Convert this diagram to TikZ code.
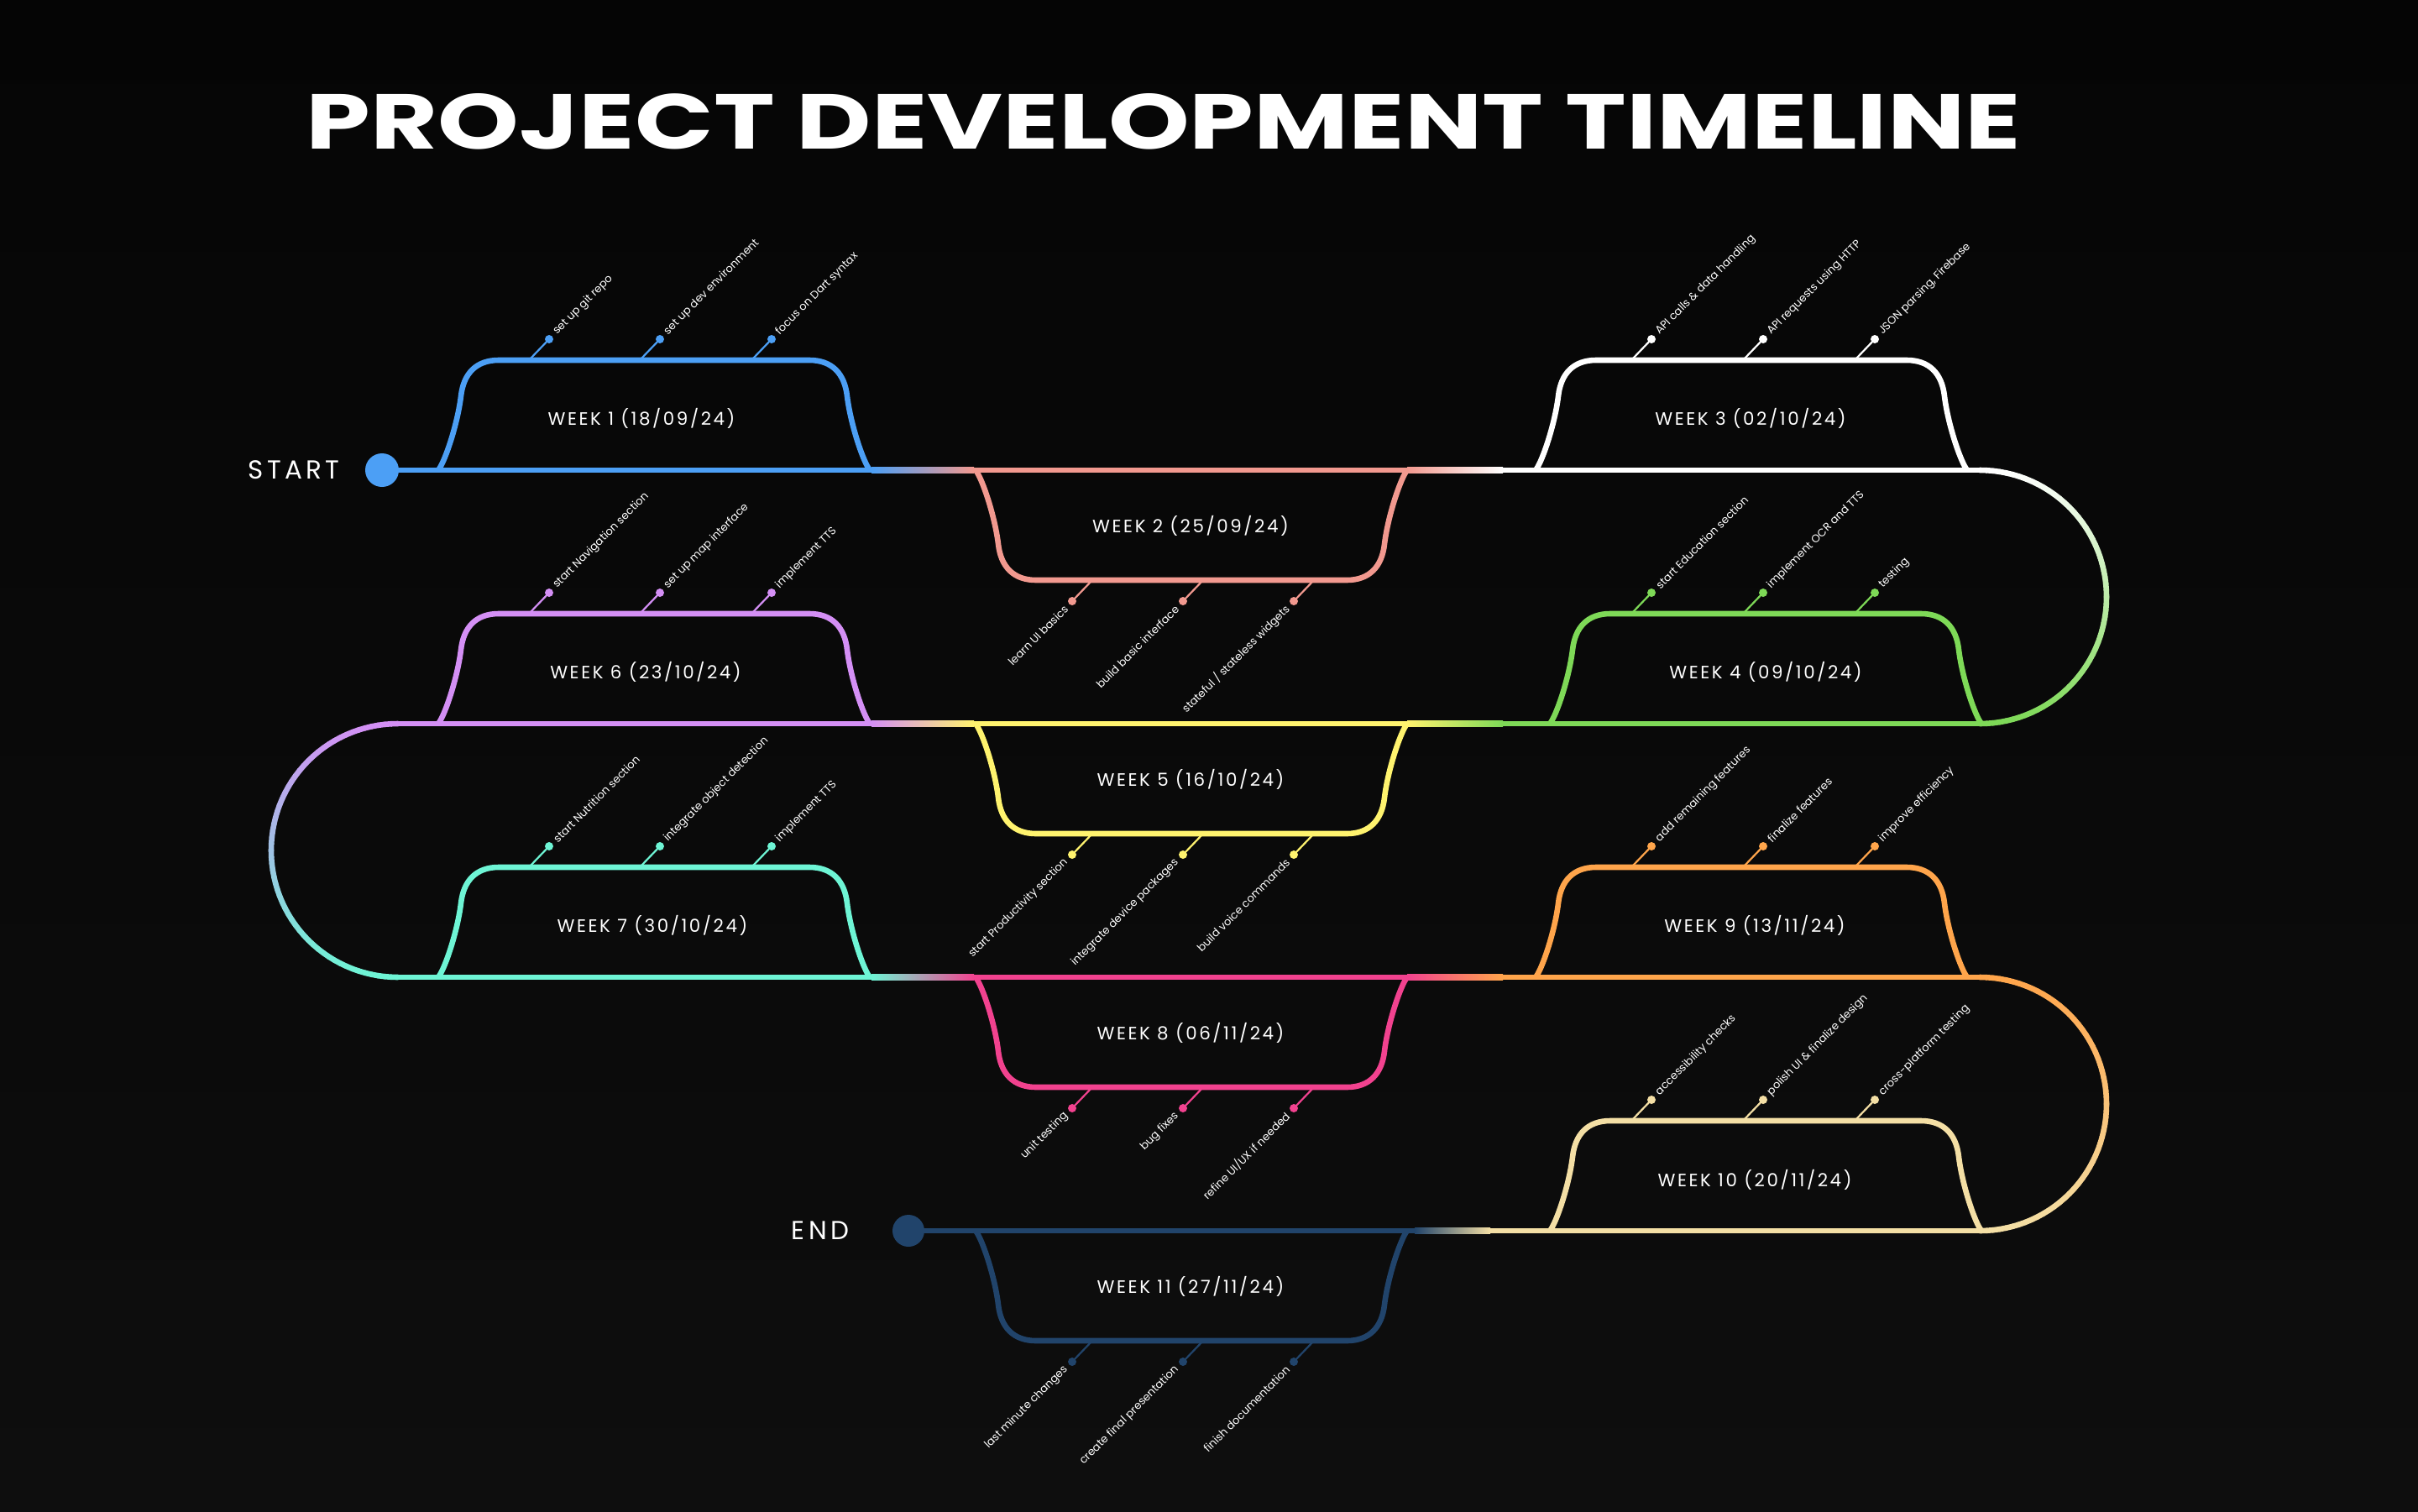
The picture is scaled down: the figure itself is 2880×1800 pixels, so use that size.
\documentclass[tikz,border=0pt]{standalone}
\usepackage{fontspec}
\usepackage{graphicx}
\setmainfont{Poppins}
\newfontfamily\weekfont{Poppins}[LetterSpace=12]
\newfontfamily\sefont{Poppins}[LetterSpace=14]
\newfontfamily\titlefont{Poppins}
\definecolor{bgtop}{HTML}{050505}
\definecolor{bgbot}{HTML}{0E0E0E}
\definecolor{cblue}{HTML}{4C9FF5}
\definecolor{csalmon}{HTML}{F2998F}
\definecolor{cwhite}{HTML}{FFFFFF}
\definecolor{cgreen}{HTML}{7ED957}
\definecolor{cyellow}{HTML}{FFF36E}
\definecolor{cpurple}{HTML}{D48FF5}
\definecolor{cteal}{HTML}{6EF5D5}
\definecolor{cpink}{HTML}{F2428F}
\definecolor{corange}{HTML}{FFA54B}
\definecolor{ccream}{HTML}{F4DFA5}
\definecolor{cnavy}{HTML}{21446B}

% straight segment: x1 x2 y colour
\newcommand\lineseg[4]{\draw[mainline,#4] (#1,#3) -- (#2,#3);}
% gradient segment: x1 x2 y leftcolour rightcolour
\newcommand\gradseg[5]{\shade[left color=#4,right color=#5] (#1,{#3-3.3}) rectangle (#2,{#3+3.3});}
% gradient arc: cx cy startangle step c1 c2
\newcommand\gradarc[6]{%
  \foreach \i in {0,...,59}{%
    \pgfmathsetmacro\aA{#3+(#4)*\i}%
    \pgfmathsetmacro\aB{#3+(#4)*(\i+1)}%
    \pgfmathtruncatemacro\pp{round(50*(1+sin((\aA+\aB)/2)))}%
    \draw[mainline,line cap=round,color=#6!\pp!#5] ({#1+151*cos(\aA)},{#2+151*sin(\aA)}) -- ({#1+151*cos(\aB)},{#2+151*sin(\aB)});
  }}
% bump above the line: left x, base y, colour
\newcommand\topbump[3]{%
  \draw[bumpline,#3] (#1,#2) .. controls ({#1+8},{#2-10}) and ({#1+23},{#2-55}) .. ({#1+27},{#2-88})
   .. controls ({#1+30},{#2-115}) and ({#1+45},{#2-131}) .. ({#1+72},{#2-131})
   -- ({#1+442},{#2-131})
   .. controls ({#1+469},{#2-131}) and ({#1+484},{#2-115}) .. ({#1+487},{#2-88})
   .. controls ({#1+491},{#2-55}) and ({#1+506},{#2-10}) .. ({#1+514},{#2});}
% bump below the line
\newcommand\botbump[3]{%
  \draw[bumpline,#3] (#1,#2) .. controls ({#1+8},{#2+10}) and ({#1+23},{#2+55}) .. ({#1+27},{#2+88})
   .. controls ({#1+30},{#2+115}) and ({#1+45},{#2+131}) .. ({#1+72},{#2+131})
   -- ({#1+442},{#2+131})
   .. controls ({#1+469},{#2+131}) and ({#1+484},{#2+115}) .. ({#1+487},{#2+88})
   .. controls ({#1+491},{#2+55}) and ({#1+506},{#2+10}) .. ({#1+514},{#2});}
% tick up: name x y colour text
\newcommand\uptick[5]{%
  \draw[tickline,#4] (#2,#3) -- ({#2+24},{#3-25});
  \fill[#4] ({#2+24},{#3-25}) circle (5);
  \node[smalllab,anchor=west,rotate=45] (#1) at ({#2+31},{#3-32}) {#5};}
% tick down
\newcommand\downtick[5]{%
  \draw[tickline,#4] (#2,#3) -- ({#2-24},{#3+25});
  \fill[#4] ({#2-24},{#3+25}) circle (5);
  \node[smalllab,anchor=east,rotate=45] (#1) at ({#2-31},{#3+32}) {#5};}

\begin{document}
\begin{tikzpicture}[x=0.5pt,y=-0.5pt,
  mainline/.style={line width=3.3pt},
  bumpline/.style={line width=3.3pt,line join=round},
  tickline/.style={line width=1.1pt},
  smalllab/.style={text=white,inner sep=0pt,font=\fontsize{6.5}{7}\selectfont},
  weeklab/.style={text=white,inner sep=0pt,font=\weekfont\fontsize{10.7}{12}\selectfont},
  selab/.style={text=white,inner sep=0pt,font=\sefont\fontsize{15.5}{18}\selectfont}]
\useasboundingbox (0,0) rectangle (2880,1800);
\shade[top color=bgtop,bottom color=bgbot] (0,0) rectangle (2880,1800);

% title
\node[text=white,inner sep=0pt] (title) at (1386,145)
  {\resizebox{1021pt}{33pt}{\titlefont\bfseries PROJECT DEVELOPMENT TIMELINE}};

% row 1
\lineseg{455}{1038}{560}{cblue}
\gradseg{1038}{1160}{560}{cblue}{csalmon}
\lineseg{1160}{1676}{560}{csalmon}
\gradseg{1676}{1790}{560}{csalmon}{cwhite}
\lineseg{1790}{2358}{560}{cwhite}
\gradarc{2358}{711}{-90}{3}{cwhite}{cgreen}
% row 2
\lineseg{1790}{2358}{862}{cgreen}
\gradseg{1676}{1790}{862}{cyellow}{cgreen}
\lineseg{1160}{1676}{862}{cyellow}
\gradseg{1038}{1160}{862}{cpurple}{cyellow}
\lineseg{474}{1038}{862}{cpurple}
\gradarc{474}{1013}{270}{-3}{cpurple}{cteal}
% row 3
\lineseg{474}{1038}{1164}{cteal}
\gradseg{1038}{1160}{1164}{cteal}{cpink}
\lineseg{1160}{1676}{1164}{cpink}
\gradseg{1676}{1790}{1164}{cpink}{corange}
\lineseg{1790}{2358}{1164}{corange}
\gradarc{2358}{1315}{-90}{3}{corange}{ccream}
% row 4
\lineseg{1775}{2358}{1466}{ccream}
\gradseg{1685}{1775}{1466}{cnavy}{ccream}
\lineseg{1082}{1685}{1466}{cnavy}

% start / end
\fill[cblue] (455,560) circle (20);
\node[selab] (start) at (350,560) {START};
\fill[cnavy] (1082,1466) circle (19);
\node[selab] (end) at (977,1466) {END};

% bumps
\topbump{522}{560}{cblue}
\botbump{1162}{560}{csalmon}
\topbump{1829}{560}{cwhite}
\topbump{1846}{862}{cgreen}
\botbump{1162}{862}{cyellow}
\topbump{522}{862}{cpurple}
\topbump{522}{1164}{cteal}
\botbump{1162}{1164}{cpink}
\topbump{1829}{1164}{corange}
\topbump{1846}{1466}{ccream}
\botbump{1162}{1466}{cnavy}

% week labels
\node[weeklab] (w1) at (764,498) {WEEK 1 (18/09/24)};
\node[weeklab] (w2) at (1418,626) {WEEK 2 (25/09/24)};
\node[weeklab] (w3) at (2085,498) {WEEK 3 (02/10/24)};
\node[weeklab] (w4) at (2103,800) {WEEK 4 (09/10/24)};
\node[weeklab] (w5) at (1418,928) {WEEK 5 (16/10/24)};
\node[weeklab] (w6) at (769,800) {WEEK 6 (23/10/24)};
\node[weeklab] (w7) at (777,1102) {WEEK 7 (30/10/24)};
\node[weeklab] (w8) at (1418,1230) {WEEK 8 (06/11/24)};
\node[weeklab] (w9) at (2090,1102) {WEEK 9 (13/11/24)};
\node[weeklab] (w10) at (2090,1405) {WEEK 10 (20/11/24)};
\node[weeklab] (w11) at (1418,1532) {WEEK 11 (27/11/24)};

% ticks
\uptick{t1a}{630}{429}{cblue}{set up git repo}
\uptick{t1b}{762}{429}{cblue}{set up dev environment}
\uptick{t1c}{895}{429}{cblue}{focus on Dart syntax}
\downtick{t2a}{1301}{691}{csalmon}{learn UI basics}
\downtick{t2b}{1433}{691}{csalmon}{build basic interface}
\downtick{t2c}{1565}{691}{csalmon}{stateful / stateless widgets}
\uptick{t3a}{1943}{429}{cwhite}{API calls \& data handling}
\uptick{t3b}{2076}{429}{cwhite}{API requests using HTTP}
\uptick{t3c}{2209}{429}{cwhite}{JSON parsing, Firebase}
\uptick{t4a}{1943}{731}{cgreen}{start Education section}
\uptick{t4b}{2076}{731}{cgreen}{implement OCR and TTS}
\uptick{t4c}{2209}{731}{cgreen}{testing}
\downtick{t5a}{1301}{993}{cyellow}{start Productivity section}
\downtick{t5b}{1433}{993}{cyellow}{integrate device packages}
\downtick{t5c}{1565}{993}{cyellow}{build voice commands}
\uptick{t6a}{630}{731}{cpurple}{start Navigation section}
\uptick{t6b}{762}{731}{cpurple}{set up map interface}
\uptick{t6c}{895}{731}{cpurple}{implement TTS}
\uptick{t7a}{630}{1033}{cteal}{start Nutrition section}
\uptick{t7b}{762}{1033}{cteal}{integrate object detection}
\uptick{t7c}{895}{1033}{cteal}{implement TTS}
\downtick{t8a}{1301}{1295}{cpink}{unit testing}
\downtick{t8b}{1433}{1295}{cpink}{bug fixes}
\downtick{t8c}{1565}{1295}{cpink}{refine UI/UX if needed}
\uptick{t9a}{1943}{1033}{corange}{add remaining features}
\uptick{t9b}{2076}{1033}{corange}{finalize features}
\uptick{t9c}{2209}{1033}{corange}{improve efficiency}
\uptick{t10a}{1943}{1335}{ccream}{accessibility checks}
\uptick{t10b}{2076}{1335}{ccream}{polish UI \& finalize design}
\uptick{t10c}{2209}{1335}{ccream}{cross-platform testing}
\downtick{t11a}{1301}{1597}{cnavy}{last minute changes}
\downtick{t11b}{1433}{1597}{cnavy}{create final presentation}
\downtick{t11c}{1565}{1597}{cnavy}{finish documentation}
\end{tikzpicture}
\end{document}
